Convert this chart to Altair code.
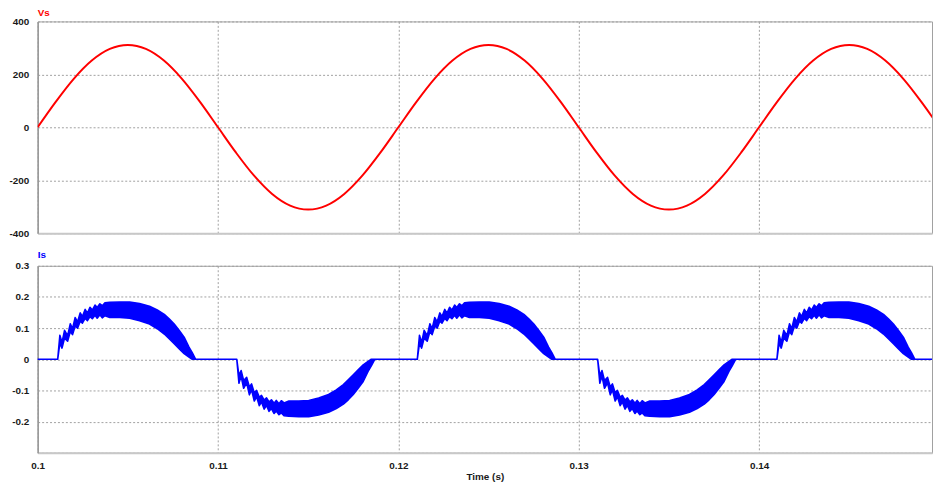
import altair as alt
import pandas as pd

# ---------------- data ----------------
# Vs (V), sampled every 1 ms
vs_t = [0.100, 0.101, 0.102, 0.103, 0.104, 0.105, 0.106, 0.107, 0.108, 0.109,
        0.110, 0.111, 0.112, 0.113, 0.114, 0.115, 0.116, 0.117, 0.118, 0.119,
        0.120, 0.121, 0.122, 0.123, 0.124, 0.125, 0.126, 0.127, 0.128, 0.129,
        0.130, 0.131, 0.132, 0.133, 0.134, 0.135, 0.136, 0.137, 0.138, 0.139,
        0.140, 0.141, 0.142, 0.143, 0.144, 0.145, 0.146, 0.147, 0.148, 0.149,
        0.150]
vs_v = [0, 96, 183, 252, 296, 311, 296, 252, 183, 96,
        0, -96, -183, -252, -296, -311, -296, -252, -183, -96,
        0, 96, 183, 252, 296, 311, 296, 252, 183, 96,
        0, -96, -183, -252, -296, -311, -296, -252, -183, -96,
        0, 96, 183, 252, 296, 311, 296, 252, 183, 96,
        0]

# Is (A): one conduction pulse, offsets (ms) from its start, upper / lower edge of the ripple band
pulse_off_ms = [0.00, 0.12, 0.24, 0.38, 0.55, 0.70, 0.82, 0.97, 1.10, 1.25,
                1.37, 1.52, 1.65, 1.79, 1.92, 2.07, 2.19, 2.34, 2.47, 2.62,
                2.89, 3.44, 3.99, 4.54, 5.09, 5.52, 5.91, 6.18, 6.46, 6.73,
                7.01, 7.28, 7.46, 7.65]
pulse_hi = [0.000, 0.077, 0.054, 0.093, 0.076, 0.114, 0.098, 0.134, 0.120, 0.149,
            0.137, 0.160, 0.148, 0.167, 0.158, 0.174, 0.166, 0.178, 0.172, 0.181,
            0.183, 0.184, 0.184, 0.179, 0.170, 0.158, 0.144, 0.130, 0.113, 0.093,
            0.071, 0.039, 0.021, 0.000]
pulse_lo = [0.000, 0.052, 0.036, 0.068, 0.058, 0.089, 0.079, 0.107, 0.100, 0.122,
            0.116, 0.131, 0.124, 0.137, 0.130, 0.141, 0.132, 0.143, 0.133, 0.140,
            0.134, 0.134, 0.132, 0.124, 0.113, 0.098, 0.081, 0.066, 0.050, 0.034,
            0.018, 0.007, 0.000, 0.000]
# start time and polarity of each pulse
pulse_start = [0.10111, 0.11104, 0.12105, 0.13105, 0.14099]
pulse_sign = [1, -1, 1, -1, 1]

x_domain = [0.1, 0.14959]
x_ticks = [0.1, 0.11, 0.12, 0.13, 0.14]
vs_ticks = [-400, -200, 0, 200, 400]
is_ticks = [-0.3, -0.2, -0.1, 0, 0.1, 0.2, 0.3]

# ---------------- tables ----------------
vs_df = pd.DataFrame({"t": vs_t, "v": vs_v})

rows = [(0.1, 0.0, 0.0)]
for s, g in zip(pulse_start, pulse_sign):
    for off, hi, lo in zip(pulse_off_ms, pulse_hi, pulse_lo):
        rows.append((s + off / 1000.0, g * lo, g * hi))
rows.append((0.1500, 0.0, 0.0))
is_df = pd.DataFrame(rows, columns=["t", "lo", "hi"])

grid_kw = dict(grid=True, gridColor="#a0a0a0", gridDash=[2, 2], gridWidth=1)

vs_line = alt.Chart(vs_df).mark_line(
    color="#ff0000", strokeWidth=2, interpolate="monotone", clip=True
).encode(
    x=alt.X("t:Q", scale=alt.Scale(domain=x_domain, nice=False, zero=False),
            axis=alt.Axis(values=x_ticks, labels=False, ticks=False, title=None,
                          domainColor="#c8c8c8", domainWidth=2, **grid_kw)),
    y=alt.Y("v:Q", scale=alt.Scale(domain=[-400, 400], nice=False),
            axis=alt.Axis(values=vs_ticks, title=None, ticks=False, labelPadding=9,
                          labelFlush=False, labelExpr="'' + datum.value",
                          domainColor="#999999", domainWidth=1.5, **grid_kw)),
)
vs_label = alt.Chart(pd.DataFrame({"name": ["Vs"]})).mark_text(
    align="left", baseline="top", color="#ff0000", fontSize=10,
    fontWeight="bold", font="Liberation Sans"
).encode(text="name:N", x=alt.value(0), y=alt.value(-13))
top = alt.layer(vs_line, vs_label).properties(width=904, height=214)

is_area = alt.Chart(is_df).mark_area(
    color="#0000ff", stroke="#0000ff", strokeWidth=1.6, strokeJoin="round",
    opacity=1, clip=True
).encode(
    x=alt.X("t:Q", scale=alt.Scale(domain=x_domain, nice=False, zero=False),
            axis=alt.Axis(values=x_ticks, title="Time (s)", ticks=False, labelPadding=8,
                          labelFlush=False, labelExpr="'' + datum.value",
                          titleFontSize=10, titleFontWeight="bold", titlePadding=1,
                          titleFont="Liberation Sans", titleColor="#1a1a1a",
                          domainColor="#c8c8c8", domainWidth=2, **grid_kw)),
    y=alt.Y("lo:Q", scale=alt.Scale(domain=[-0.3, 0.3], nice=False),
            axis=alt.Axis(values=is_ticks, title=None, ticks=False, labelPadding=9,
                          labelFlush=False,
                          labelExpr="datum.value == -0.3 ? '' : '' + datum.value",
                          domainColor="#999999", domainWidth=1.5, **grid_kw)),
    y2="hi:Q",
)
is_label = alt.Chart(pd.DataFrame({"name": ["Is"]})).mark_text(
    align="left", baseline="top", color="#0000ff", fontSize=10,
    fontWeight="bold", font="Liberation Sans"
).encode(text="name:N", x=alt.value(0), y=alt.value(-16))
bottom = alt.layer(is_area, is_label).properties(width=904, height=189)

chart = alt.vconcat(top, bottom, spacing=10).properties(
    padding={"left": 0, "top": -3, "right": 0, "bottom": 0},
    background="white",
).configure_view(
    stroke="#a0a0a0", strokeWidth=1
).configure_axis(
    labelFont="Liberation Sans", labelFontSize=10, labelFontWeight="bold",
    labelColor="#1a1a1a",
)

chart.save("out.html", embed_options={"renderer": "svg", "actions": False})
